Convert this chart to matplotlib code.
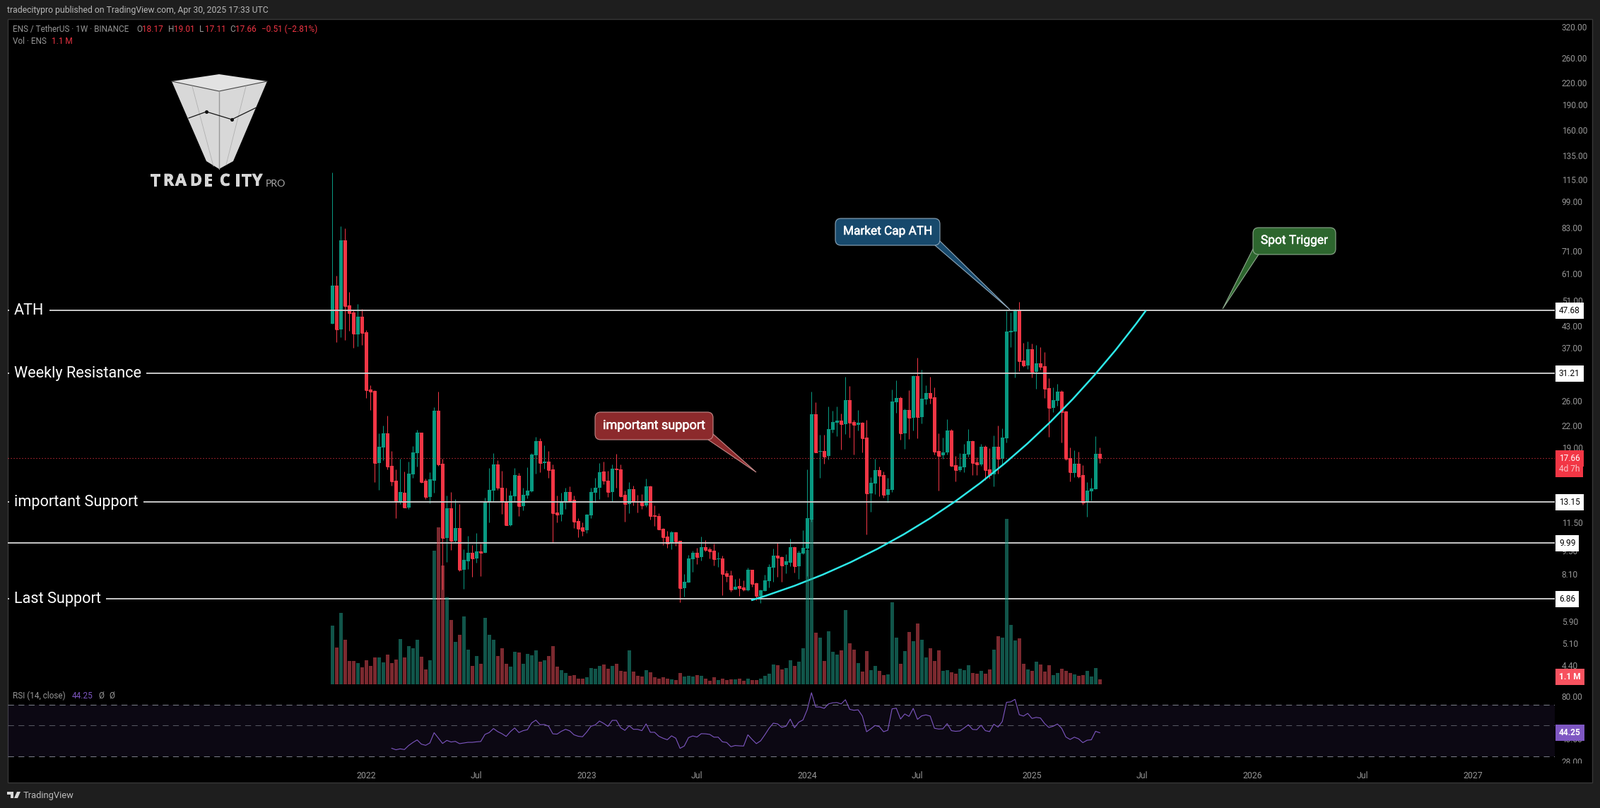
import numpy as np
import matplotlib
matplotlib.use('Agg')
import matplotlib.pyplot as plt
import matplotlib.patheffects as pe
from matplotlib.patches import FancyBboxPatch, PathPatch, Polygon, Rectangle
from matplotlib.path import Path

W, H = 2264, 1143
FONT = 'Roboto'

# weekly candles, ENS/USDT, first bar is the week of Nov 8 2021
opens = [43.6,56.3,41.9,76.3,49.3,47.0,40.6,45.7,41.2,28.0,
         27.8,17.1,19.0,20.9,16.8,15.2,13.1,14.0,12.7,15.85,
         18.3,21.0,15.15,13.6,15.2,24.3,17.0,10.35,12.6,10.15,
         11.05,8.35,8.85,9.35,9.0,9.45,9.35,13.1,14.2,16.9,
         14.5,13.15,11.25,13.65,15.7,12.8,13.75,14.15,18.0,19.8,
         17.1,17.3,16.4,12.25,12.1,13.2,14.1,13.35,11.6,11.1,
         10.9,12.05,14.0,14.45,16.15,15.2,14.1,16.5,16.4,13.8,
         13.0,14.35,13.25,13.2,12.85,14.65,12.05,12.0,11.0,10.45,
         9.97,10.72,10.13,7.37,7.65,8.95,9.34,9.08,9.70,9.56,
         9.47,8.95,8.99,8.14,8.02,7.30,7.47,7.40,7.27,8.33,
         7.62,6.99,7.24,7.72,8.45,9.17,9.08,8.63,8.75,9.70,
         8.54,9.30,9.61,11.72,23.72,18.44,18.53,17.9,21.37,22.4,
         22.72,22.19,26.08,22.5,22.09,22.4,20.28,13.93,14.9,16.3,
         15.76,13.8,14.27,25.71,26.46,20.86,24.39,23.16,30.65,23.26,
         26.2,27.35,26.58,18.53,18.0,18.35,21.26,16.84,16.3,16.6,
         18.09,19.8,17.16,16.92,19.1,16.38,15.83,19.1,17.58,20.17,
         41.15,41.34,47.68,34.0,32.92,36.71,31.53,33.38,32.76,28.27,
         24.75,25.96,27.6,24.2,17.66,16.0,17.0,15.76,13.1,14.15,
         14.34,18.17]
highs = [120.4,60.3,83.9,82.8,53.9,48.0,49.8,48.1,41.8,28.9,
         27.9,20.9,22.0,23.5,18.5,16.4,17.6,16.15,17.3,19.2,
         21.4,21.0,15.4,16.05,24.9,27.6,17.6,13.75,14.1,13.4,
         13.0,9.6,10.5,9.85,10.7,9.95,13.55,16.55,18.3,17.4,
         16.2,14.45,14.2,16.55,16.0,14.5,16.65,18.3,20.4,20.2,
         19.3,18.5,16.9,13.75,14.0,14.45,14.65,13.75,11.8,11.5,
         12.15,14.45,15.45,17.1,17.3,16.2,16.9,18.2,16.9,14.2,
         15.05,14.7,13.8,13.9,15.4,14.7,12.85,12.2,11.05,10.82,
         10.82,10.78,10.13,8.10,9.21,9.47,9.66,10.45,10.18,9.70,
         9.94,9.39,9.17,8.32,8.32,7.84,7.87,7.76,8.45,8.33,
         7.65,7.32,8.06,8.66,9.61,9.98,9.13,9.25,10.27,9.75,
         9.47,10.87,16.35,27.6,25.71,20.66,20.66,24.99,24.28,24.99,
         23.83,30.5,28.68,22.84,24.39,22.5,22.84,15.54,17.58,16.68,
         16.15,15.46,28.0,29.8,26.71,24.62,27.87,30.8,34.68,32.0,
         28.81,30.5,28.46,20.86,20.28,22.94,21.47,17.9,18.26,19.43,
         21.47,19.93,17.72,19.43,19.3,18.9,20.56,22.0,21.57,47.45,
         47.0,48.05,50.47,38.32,38.68,38.14,37.78,37.24,36.02,30.22,
         28.41,29.09,27.87,24.3,18.97,18.61,18.43,16.85,15.03,15.46,
         20.47,19.01]
lows = [43.6,38.5,39.8,39.0,41.5,37.1,37.5,37.8,26.5,24.4,
        15.05,14.3,17.4,16.4,14.7,11.8,13.0,12.7,12.55,15.5,
        16.7,14.95,13.45,13.05,14.0,16.8,7.3,8.8,9.55,10.05,
        8.25,7.35,8.4,7.95,8.75,8.0,9.35,11.5,13.25,14.25,
        12.15,11.25,11.2,13.15,12.0,12.45,13.5,14.1,15.9,16.05,
        16.5,15.45,10.0,11.5,11.6,12.55,13.15,11.05,10.4,10.5,
        10.7,11.8,13.1,13.4,14.85,13.6,13.25,14.45,13.6,11.55,
        12.2,12.85,12.25,12.55,12.75,11.7,11.2,10.95,9.85,9.65,
        9.58,9.81,6.71,6.98,7.65,8.22,8.66,8.87,9.43,8.99,
        8.58,8.51,7.02,7.69,7.19,7.30,6.99,7.24,7.24,7.44,
        6.79,6.68,7.24,7.41,7.69,7.95,7.69,8.14,8.54,8.18,
        7.84,9.25,7.99,11.51,18.35,15.46,17.0,17.5,20.96,20.47,
        18.7,20.75,20.28,18.09,21.3,18.35,10.57,12.3,13.87,13.68,
        13.52,13.08,14.06,23.94,19.99,18.79,20.08,21.26,20.18,22.3,
        25.34,25.46,18.09,14.2,17.58,18.09,16.68,15.1,16.15,16.08,
        17.86,15.76,15.76,16.75,15.24,15.4,14.6,15.9,16.82,19.6,
        37.24,30.36,31.69,32.6,32.14,30.36,28.14,31.99,26.45,20.37,
        24.06,25.1,19.6,17.41,15.1,15.54,15.46,12.91,11.91,13.28,
        14.34,17.11]
closes = [56.3,41.9,76.3,49.1,46.8,40.8,45.7,41.0,27.9,27.6,
          17.1,19.1,20.9,16.7,15.1,13.15,14.1,12.7,15.9,18.4,
          21.0,15.05,13.6,15.3,24.3,16.9,10.35,12.6,10.15,11.05,
          8.35,8.9,9.35,9.0,9.45,9.35,13.15,14.3,16.9,14.45,
          13.15,11.25,13.75,15.8,12.8,13.8,14.2,18.1,19.8,17.1,
          17.3,16.3,12.2,12.1,13.25,14.1,13.25,11.55,11.0,10.85,
          12.1,14.1,14.5,16.05,15.15,14.1,16.5,16.4,13.7,13.0,
          14.35,13.15,13.15,12.85,14.65,12.0,11.95,10.95,10.4,9.97,
          10.72,10.08,7.37,7.69,8.99,9.34,9.08,9.70,9.52,9.43,
          8.95,8.99,8.10,7.99,7.30,7.44,7.37,7.30,8.33,7.58,
          6.99,7.27,7.76,8.49,9.17,9.04,8.58,8.83,9.70,8.54,
          9.34,9.66,11.79,23.72,18.35,18.53,17.83,21.47,22.5,22.72,
          22.19,26.08,22.4,22.09,22.4,20.18,13.93,14.96,16.3,15.69,
          13.8,14.34,25.83,26.46,20.86,24.39,23.16,30.65,23.26,26.33,
          27.35,26.46,18.44,17.9,18.35,21.26,16.75,16.3,16.68,18.18,
          19.8,17.08,16.92,19.1,16.3,15.76,19.1,17.58,20.27,41.34,
          41.54,47.68,33.86,32.92,36.71,31.53,33.38,32.6,28.14,24.75,
          26.08,27.6,24.06,17.58,16.06,17.0,15.6,13.1,14.2,14.4,
          18.17,17.66]
# volume in millions of ENS
volumes = [13.0,8.2,15.9,9.9,5.2,5.2,4.7,3.8,5.3,4.1,
           6.0,6.0,4.9,6.6,4.7,5.5,10.1,6.0,8.5,8.0,
           9.9,6.1,3.3,5.3,29.6,34.9,26.4,19.3,14.3,9.4,
           11.0,15.1,7.7,4.1,6.3,4.6,14.8,11.0,9.9,6.3,
           8.0,4.6,3.9,7.2,7.1,4.6,6.8,6.4,7.5,5.0,
           5.3,6.3,8.5,3.9,3.1,2.5,1.9,2.0,1.3,1.3,
           1.6,3.6,3.5,4.1,4.4,3.5,4.1,4.6,3.0,2.8,
           7.5,2.8,1.9,1.7,3.1,2.7,1.6,1.3,1.6,1.3,
           1.1,0.9,2.5,1.7,1.9,1.7,2.0,1.9,1.3,0.8,
           1.6,0.9,1.3,0.9,1.1,1.1,1.3,0.8,1.3,0.9,
           0.9,1.3,1.9,2.4,4.4,4.2,3.3,3.6,5.3,4.1,
           5.0,8.0,29.9,36.8,11.5,10.4,5.2,11.8,7.2,6.6,
           7.5,16.5,9.1,7.7,4.7,2.8,7.4,3.1,4.1,3.0,
           2.0,2.2,18.2,10.4,4.6,7.4,11.6,9.6,13.5,9.9,
           6.0,8.0,5.2,7.5,3.0,3.1,2.7,2.4,3.5,3.1,
           4.2,2.5,2.4,3.0,2.4,3.3,7.7,10.7,10.4,36.8,
           13.2,9.7,10.2,4.6,3.3,3.0,5.0,4.4,2.8,4.2,
           2.0,2.5,3.5,3.0,2.5,2.2,1.9,2.0,3.0,1.7,
           3.6,1.1]
# RSI only starts on bar 14
rsi_values = [34.4,33.6,34.1,33.7,36.0,37.8,39.4,36.8,36.1,37.5,
              44.3,40.6,37.2,39.1,38.1,38.5,37.1,37.5,37.9,37.9,
              38.2,38.4,43.1,44.4,47.4,45.1,43.6,41.7,45.1,47.8,
              44.4,45.8,46.5,51.9,54.3,50.4,50.6,49.2,43.5,43.3,
              45.3,46.8,45.6,42.8,41.8,41.5,44.8,49.2,50.2,53.5,
              51.5,49.1,54.1,54.1,48.0,46.0,49.6,46.8,46.8,45.8,
              51.1,44.6,44.6,41.8,40.5,39.5,42.1,40.5,34.4,35.7,
              40.9,42.0,41.3,43.6,43.5,43.1,41.2,41.2,38.2,37.8,
              35.3,36.0,35.8,35.7,42.8,39.7,37.1,38.8,42.8,47.6,
              51.7,51.1,48.3,49.2,55.2,48.0,52.5,54.5,64.4,84.7,
              67.2,67.2,65.7,70.6,71.9,72.2,70.6,75.6,64.7,63.7,
              64.2,58.0,45.0,47.2,49.8,48.9,45.0,46.1,65.2,65.9,
              55.3,60.0,57.7,65.7,55.0,58.2,59.1,58.0,47.6,47.0,
              47.2,51.3,45.8,45.3,45.6,47.8,50.4,46.7,46.5,50.0,
              45.8,45.1,50.8,48.5,53.1,72.5,73.0,76.1,59.3,58.0,
              60.6,55.8,56.8,56.2,51.3,48.2,49.2,51.0,47.6,41.3,
              39.7,41.2,40.1,37.7,39.2,39.5,45.3,44.25]

price_ticks = [320,260,220,190,160,135,115,99,83,71,61,51,43,37,26,22,19,16,13.5,11.5,9.5,8.1,5.9,5.1,4.4]
rsi_ticks = [80,40,28]
time_ticks = [8,34,60,86,112,138,165,191,217,243,269]
time_labels = ['2022','Jul','2023','Jul','2024','Jul','2025','Jul','2026','Jul','2027']
levels = [47.68,31.21,13.15,9.99,6.86]
level_names = ['ATH','Weekly Resistance','important Support',None,'Last Support']
curve_x = [98.8,154.3,191.9]
curve_y = [6.80,10.93,47.68]
last_price = 17.66

GREEN, RED = '#089981', '#f23645'
VOL_GREEN, VOL_RED = '#22ab94', '#f7525f'
PURPLE = '#7e57c2'
GRAY = '#979797'
BOX_X = 1.0027

x = np.arange(len(closes))
o, h, l, c = map(np.array, (opens, highs, lows, closes))
up = c >= o
colors = np.where(up, GREEN, RED)
vol_colors = np.where(up, VOL_GREEN, VOL_RED)


def rect(left, top, right, bottom):
    return [left / W, 1 - bottom / H, (right - left) / W, (bottom - top) / H]


def pane(pos, z):
    a = fig.add_axes(pos, zorder=z, facecolor='none')
    for s in a.spines.values():
        s.set_visible(False)
    return a


fig = plt.figure(figsize=(W / 100, H / 100), dpi=100, facecolor='#1e1e1e')

# pixel layers for the frame, the logo and the callouts
under = pane([0, 0, 1, 1], 0)
under.set_xlim(0, W)
under.set_ylim(H, 0)
under.axis('off')
under.add_patch(Rectangle((10.5, 27), 2242.5, 1080, fc='black', ec='#383838', lw=1))

XMIN, XMAX = -76.63, 288.3
main_pos = rect(10.5, 27, 2200, 975)

ax = pane(main_pos, 1)
ax.set_yscale('log')
ax.set_xlim(XMIN, XMAX)
ax.set_ylim(3.74, 337.6)
ax.vlines(x, l, h, colors=colors, lw=0.72, zorder=2)
ax.bar(x, np.abs(c - o), 0.83, bottom=np.minimum(o, c), color=colors, lw=0, zorder=2.1)
ax.hlines(c, x - 0.41, x + 0.41, colors=colors, lw=0.72, zorder=2.1)
ax.axhline(last_price, color=RED, lw=0.8, ls=(0, (1, 2.6)), zorder=2.2)
for lv in levels:
    ax.axhline(lv, color='#cfcfcf', lw=1.35, zorder=3)

curve = Path(np.column_stack([curve_x, curve_y]), [Path.MOVETO, Path.CURVE3, Path.CURVE3])
ax.add_patch(PathPatch(curve, fc='none', ec='#2de8e8', lw=1.8, zorder=3.5))

ax.set_xticks([])
ax.yaxis.tick_right()
ax.set_yticks(price_ticks)
ax.set_yticklabels([f'{v:.2f}' for v in price_ticks], fontsize=8.6, color=GRAY, family=FONT)
ax.minorticks_off()
ax.tick_params(axis='y', length=0, pad=7)

ytrans = ax.get_yaxis_transform()
for lv, name in zip(levels, level_names):
    if name:
        ax.text(9.5 / 2189.5, lv, name, transform=ytrans, color='white', fontsize=15.6, family=FONT,
                va='center', ha='left', zorder=5,
                bbox=dict(boxstyle='square,pad=0.34', fc='black', ec='none'))
    ax.text(BOX_X, lv, f'{lv:.2f}', transform=ytrans, color='black', fontsize=8.6, family=FONT,
            va='center', ha='left', zorder=20, clip_on=False,
            bbox=dict(boxstyle='square,pad=0.42', fc='white', ec='none'))

ax.text(BOX_X, last_price, f'{last_price:.2f}', transform=ytrans, color='white', fontsize=8.6, family=FONT,
        va='center', ha='left', zorder=20, clip_on=False,
        bbox=dict(boxstyle='square,pad=0.42', fc=RED, ec='none'))
ax.annotate('4d 7h', xy=(BOX_X, last_price), xycoords=ytrans, xytext=(0, -10.8), textcoords='offset points',
            color='#fbc4c9', fontsize=8.6, family=FONT, va='center', ha='left', zorder=20, annotation_clip=False,
            bbox=dict(boxstyle='square,pad=0.42', fc=RED, ec='none'))

# volume sits over the level lines
vax = pane(main_pos, 2)
vax.set_xlim(XMIN, XMAX)
vax.set_ylim(-1.1, 147.7)
vax.bar(x, volumes, 0.83, color=vol_colors, alpha=0.5, lw=0)
vax.set_xticks([])
vax.set_yticks([])
vax.text(BOX_X, volumes[-1] + 0.55, '1.1 M', transform=vax.get_yaxis_transform(), color='white', fontsize=8.6,
         family=FONT, weight='bold', va='center', ha='left', clip_on=False,
         bbox=dict(boxstyle='square,pad=0.42', fc=VOL_RED, ec='none'))

# RSI pane
rax = pane(rect(10.5, 975, 2200, 1080), 3)
rax.set_yscale('log')
rax.set_xlim(XMIN, XMAX)
rax.set_ylim(26.9, 89.6)
rax.axhspan(30, 70, color=PURPLE, alpha=0.1, lw=0)
for lv, col in [(70, '#787b86'), (50, '#565862'), (30, '#787b86')]:
    rax.axhline(lv, color=col, lw=0.75, ls=(0, (8, 6)))
rax.plot(x[14:], rsi_values, color=PURPLE, lw=0.8)
rax.yaxis.tick_right()
rax.set_yticks(rsi_ticks)
rax.set_yticklabels([f'{v:.2f}' for v in rsi_ticks], fontsize=8.6, color=GRAY, family=FONT)
rax.minorticks_off()
rax.tick_params(axis='y', length=0, pad=7)
rax.text(BOX_X, rsi_values[-1], f'{rsi_values[-1]:.2f}', transform=rax.get_yaxis_transform(), color='white',
         fontsize=8.6, family=FONT, weight='bold', va='center', ha='left', zorder=20, clip_on=False,
         bbox=dict(boxstyle='square,pad=0.42', fc=PURPLE, ec='none'))
rax.set_xticks(time_ticks)
rax.set_xticklabels(time_labels, fontsize=8.8, color=GRAY, family=FONT)
rax.tick_params(axis='x', length=0, pad=8)

# pixel layer on top
top = pane([0, 0, 1, 1], 10)
top.set_xlim(0, W)
top.set_ylim(H, 0)
top.axis('off')
top.add_patch(Rectangle((2201, 1080), 50, 26, fc='black', ec='none'))


def txt(px, py, s, color=GRAY, size=8.2, **kw):
    kw.setdefault('family', FONT)
    return top.text(px, py, s, color=color, fontsize=size, va='center', ha=kw.pop('ha', 'left'), **kw)


txt(10, 14.5, 'tradecitypro published on TradingView.com, Apr 30, 2025 17:33 UTC', '#b8b8b8', 8.82)
txt(18, 41.5, 'ENS / TetherUS · 1W · BINANCE', GRAY, 8.5)
for px, label, val in [(193, 'O', '18.17'), (238, 'H', '19.01'), (282, 'L', '17.11'), (325, 'C', '17.66')]:
    txt(px, 41.5, label, GRAY, 8.5)
    txt(px + 8, 41.5, val, RED, 8.5)
txt(370, 41.5, '−0.51 (−2.81%)', RED, 8.5)
txt(18, 59, 'Vol · ENS', GRAY, 8.5)
txt(73, 59, '1.1 M', RED, 8.5)
txt(18, 984, 'RSI (14, close)', GRAY, 8.5)
txt(102, 984, '44.25', PURPLE, 8.5)
txt(139, 984, 'Ø', GRAY, 8.5)
txt(154, 984, 'Ø', GRAY, 8.5)

# TradingView mark and name in the footer
top.add_patch(Polygon([(10, 1120), (19, 1120), (19, 1129), (15, 1129), (15, 1124), (10, 1124)], fc='#d8d8d8', ec='none'))
top.add_patch(Polygon([(20, 1129), (24, 1120), (29, 1120), (25, 1129)], fc='#d8d8d8', ec='none'))
txt(33, 1125.5, 'TradingView', '#bdbdbd', 9.3)

# logo
top.add_patch(Polygon([(243, 115), (310, 129), (378, 115), (330, 228), (310, 239), (292, 228)], fc='#d8d8d8', ec='none'))
top.add_patch(Polygon([(243, 115), (310, 105), (378, 115), (310, 129)], fc='#e2e2e2', ec='none'))
top.plot([243, 310, 378], [115, 129, 115], color='#4a4a4a', lw=0.8)
top.plot([310, 310], [129, 239], color='#999999', lw=1.0)
top.plot([272, 302], [122, 235], color='#b0b0b0', lw=0.6)
top.plot([348, 320], [122, 233], color='#b0b0b0', lw=0.6)
top.plot([267, 292, 328, 363], [167, 158, 169, 152], color='#151515', lw=0.9)
top.plot([292, 328], [158, 169], 'o', color='#111111', ms=2.6)
logo_letters = [('T', 213), ('R', 231), ('A', 248), ('D', 269), ('E', 288), ('C', 311), ('I', 332), ('T', 342), ('Y', 357)]
for ch, px in logo_letters:
    t = txt(px, 256.5, ch, '#d6d6d6', 16.5, family='Open Sans', weight='bold')
    t.set_path_effects([pe.withStroke(linewidth=0.7, foreground='#d6d6d6')])
txt(376, 259.5, 'PRO', '#a8a8a8', 10.2, family='Lato')


def callout(left, ytop, right, ybot, text, fill, edge, tail, size):
    top.add_patch(Polygon(tail, fc=fill, ec=edge, lw=0.8, zorder=4))
    top.add_patch(FancyBboxPatch((left + 6, ytop + 6), right - left - 12, ybot - ytop - 12,
                                 boxstyle='round,pad=6,rounding_size=8', fc=fill, ec=edge, lw=0.8,
                                 mutation_aspect=1, zorder=5))
    t = top.text((left + right) / 2, (ytop + ybot) / 2 - 0.5, text, color='white', fontsize=size, family=FONT,
                 ha='center', va='center', zorder=6)
    t.set_path_effects([pe.withStroke(linewidth=0.35, foreground='white')])


callout(1182, 309, 1330, 347, 'Market Cap ATH', '#17496c', '#8fa8bb',
        [(1329, 340), (1429, 438), (1323, 347)], 12.4)
callout(1773, 322, 1890, 360, 'Spot Trigger', '#2d662e', '#8eaa8e',
        [(1773, 352), (1730, 437), (1781, 360)], 12.5)
callout(842, 583, 1009, 622, 'important support', '#8c2a2c', '#c58a8a',
        [(1009, 614), (1070, 668), (1002, 622)], 13.0)

fig.savefig('out.png', dpi=100, facecolor=fig.get_facecolor())
